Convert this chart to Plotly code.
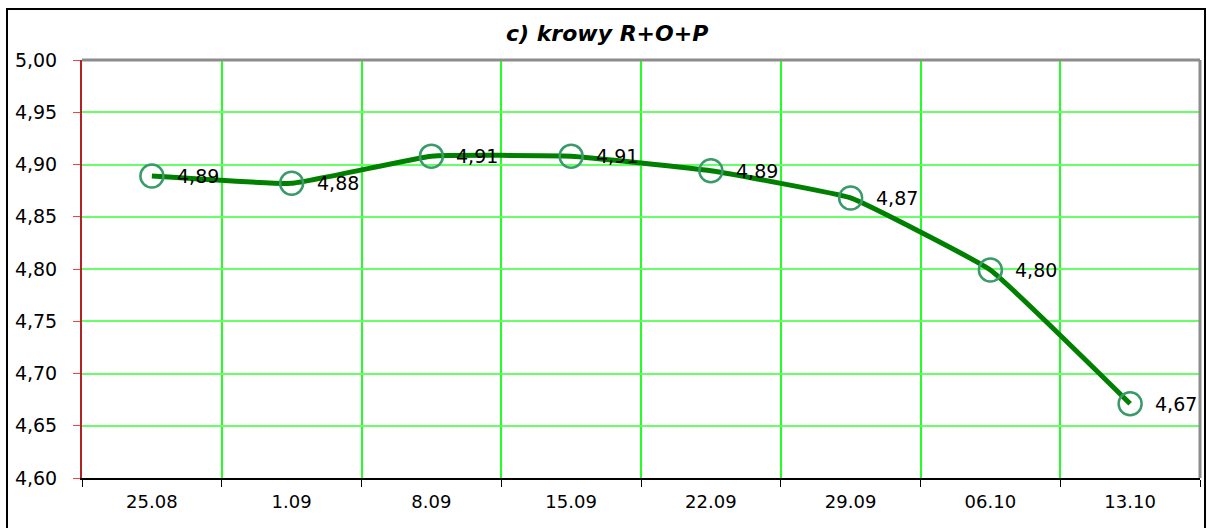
import plotly.graph_objects as go

categories = ["25.08", "1.09", "8.09", "15.09", "22.09", "29.09", "06.10", "13.10"]
values = [4.889, 4.882, 4.908, 4.908, 4.894, 4.868, 4.799, 4.671]
value_labels = ["4,89", "4,88", "4,91", "4,91", "4,89", "4,87", "4,80", "4,67"]
y_ticks = [4.60, 4.65, 4.70, 4.75, 4.80, 4.85, 4.90, 4.95, 5.00]
y_tick_labels = ["4,60", "4,65", "4,70", "4,75", "4,80", "4,85", "4,90", "4,95", "5,00"]
title_text = "c) krowy R+O+P"

positions = list(range(len(categories)))
boundaries = [i - 0.5 for i in range(len(categories) + 1)]

W, H = 1207, 528
L, R, T, B = 82, 1200, 60, 478
NUM_FONT = "DejaVu Sans, Liberation Sans, Arial"

fig = go.Figure()
fig.add_trace(go.Scatter(
    x=positions, y=values,
    mode="lines+markers",
    line=dict(color="#008000", width=5, shape="spline", smoothing=0.3),
    marker=dict(symbol="circle-open", size=23, color="#3A9A6A", line=dict(width=2.5, color="#3A9A6A")),
    hoverinfo="skip",
    showlegend=False,
))

for p, v, t in zip(positions, values, value_labels):
    fig.add_annotation(x=p, y=v, text=t, showarrow=False, xanchor="left", yanchor="middle",
                       xshift=23, font=dict(family=NUM_FONT, size=19, color="#000000"))

def px_x(p):
    return (p - L) / (R - L)

def px_y(p):
    return (B - p) / (B - T)

shapes = [
    dict(type="rect", xref="paper", yref="paper", x0=px_x(7), x1=px_x(1205), y0=px_y(540), y1=px_y(9),
         line=dict(color="#000000", width=2), fillcolor="rgba(0,0,0,0)", layer="below"),
    dict(type="line", xref="paper", yref="paper", x0=0, x1=1, y0=1, y1=1,
         line=dict(color="#8C8C8C", width=3)),
    dict(type="line", xref="paper", yref="paper", x0=1, x1=1, y0=0, y1=1,
         line=dict(color="#8C8C8C", width=3)),
]

fig.update_layout(
    width=W, height=H,
    margin=dict(l=L, r=W - R, t=T, b=H - B),
    paper_bgcolor="#FFFFFF", plot_bgcolor="#FFFFFF",
    title=dict(text=title_text, x=0.503, xanchor="center", y=1 - 33 / H, yanchor="middle",
               xref="container", yref="container",
               font=dict(family="DejaVu Sans, Liberation Sans, Arial", size=22, color="#000000",
                         weight="bold", style="italic")),
    shapes=shapes,
    xaxis=dict(
        range=[-0.5, len(categories) - 0.5],
        tickvals=positions, ticktext=categories,
        ticks="", showgrid=False, zeroline=False,
        showline=True, linecolor="#000000", linewidth=2,
        minor=dict(tickvals=boundaries, ticks="outside", ticklen=7, tickcolor="#000000",
                   tickwidth=1, showgrid=True, gridcolor="#22FF22", gridwidth=1.6),
        tickfont=dict(family=NUM_FONT, size=18, color="#000000"),
        ticklabelstandoff=6,
        fixedrange=True,
    ),
    yaxis=dict(
        range=[4.60, 5.00], tickvals=y_ticks, ticktext=y_tick_labels,
        ticks="outside", ticklen=7, tickcolor="#FF4040", tickwidth=1,
        showline=True, linecolor="#B22222", linewidth=2,
        showgrid=True, gridcolor="#66FF66", gridwidth=1.5,
        zeroline=False,
        tickfont=dict(family=NUM_FONT, size=19, color="#000000"),
        ticklabelstandoff=12,
        fixedrange=True,
    ),
)

fig.write_html("out.html", config={"displayModeBar": False},
               post_script="document.body.style.margin='0';document.body.style.overflow='hidden';")
